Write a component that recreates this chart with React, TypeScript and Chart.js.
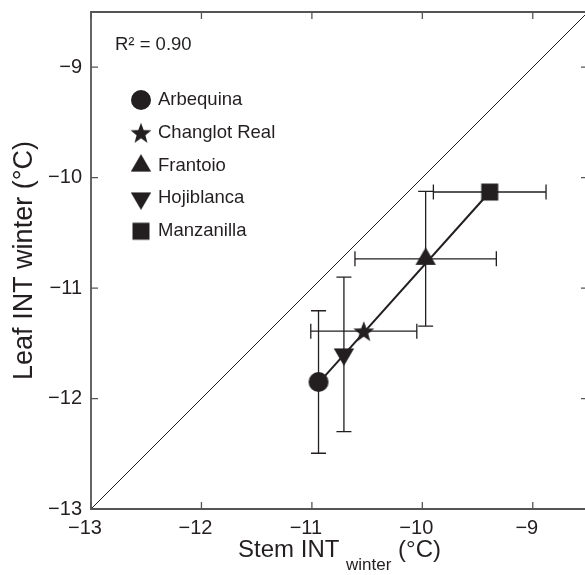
import React, { useEffect, useRef } from "react";
import { Chart, registerables } from "chart.js";

Chart.register(...registerables);

// ---------- data ----------
const cultivars = ["Arbequina", "Changlot Real", "Frantoio", "Hojiblanca", "Manzanilla"];
const stemInt = [-10.94, -10.53, -9.97, -10.71, -9.39];
const leafInt = [-11.85, -11.39, -10.735, -11.6, -10.13];
const stemErr = [0, 0.48, 0.64, 0, 0.51];
const leafErr = [0.645, 0, 0.61, 0.7, 0];
const markerShapes = ["circle", "star", "triangleUp", "triangleDown", "square"];
const fitStem = [-10.94, -9.39];
const fitLeaf = [-11.86, -10.13];
const identityLine = [-13, -8.5];
const axisMin = -13;
const axisMax = -8.5;
const tickValues = [-13, -12, -11, -10, -9];
const tickLabels = ["\u221213", "\u221212", "\u221211", "\u221210", "\u22129"];
const r2Text = "R\u00B2 = 0.90";
const xTitleMain = "Stem INT ";
const xTitleSub = "winter";
const xTitleEnd = " (\u00B0C)";
const yTitle = "Leaf INT winter (\u00B0C)";

// ---------- styles ----------
const INK = "#231f20";
const AXIS = "#555555";
const FONT = "'Liberation Sans', Arial, Helvetica, sans-serif";

function makeMarker(shape: string): HTMLCanvasElement {
  const c = document.createElement("canvas");
  const s = 24;
  c.width = s;
  c.height = s;
  const g = c.getContext("2d") as CanvasRenderingContext2D;
  const m = s / 2;
  g.fillStyle = INK;
  g.beginPath();
  switch (shape) {
    case "circle":
      g.arc(m, m, 10, 0, Math.PI * 2);
      break;
    case "square":
      g.rect(m - 8.5, m - 8.5, 17, 17);
      break;
    case "triangleUp":
      g.moveTo(m, m - 11.5);
      g.lineTo(m + 10.2, m + 6);
      g.lineTo(m - 10.2, m + 6);
      break;
    case "triangleDown":
      g.moveTo(m, m + 11.5);
      g.lineTo(m + 10.2, m - 6);
      g.lineTo(m - 10.2, m - 6);
      break;
    case "star":
      for (let k = 0; k < 10; k++) {
        const r = k % 2 === 0 ? 11 : 4.6;
        const a = -Math.PI / 2 + (k * Math.PI) / 5;
        const px = m + r * Math.cos(a);
        const py = m + 1 + r * Math.sin(a);
        if (k === 0) g.moveTo(px, py);
        else g.lineTo(px, py);
      }
      break;
  }
  g.closePath();
  g.fill();
  return c;
}

export default function App() {
  const canvasRef = useRef<HTMLCanvasElement | null>(null);

  useEffect(() => {
    const canvas = canvasRef.current;
    if (!canvas) return;
    const markers = markerShapes.map(makeMarker);

    const decor = {
      id: "decor",
      beforeDatasetsDraw(chart: any) {
        const { ctx, scales } = chart;
        const x = scales.x;
        const y = scales.y;
        const cap = 7.5;
        ctx.save();
        ctx.strokeStyle = INK;
        ctx.lineWidth = 1.3;
        cultivars.forEach((_, i) => {
          const px = x.getPixelForValue(stemInt[i]);
          const py = y.getPixelForValue(leafInt[i]);
          if (stemErr[i] > 0) {
            const x1 = x.getPixelForValue(stemInt[i] - stemErr[i]);
            const x2 = x.getPixelForValue(stemInt[i] + stemErr[i]);
            ctx.beginPath();
            ctx.moveTo(x1, py);
            ctx.lineTo(x2, py);
            ctx.moveTo(x1, py - cap);
            ctx.lineTo(x1, py + cap);
            ctx.moveTo(x2, py - cap);
            ctx.lineTo(x2, py + cap);
            ctx.stroke();
          }
          if (leafErr[i] > 0) {
            const y1 = y.getPixelForValue(leafInt[i] - leafErr[i]);
            const y2 = y.getPixelForValue(leafInt[i] + leafErr[i]);
            ctx.beginPath();
            ctx.moveTo(px, y1);
            ctx.lineTo(px, y2);
            ctx.moveTo(px - cap, y1);
            ctx.lineTo(px + cap, y1);
            ctx.moveTo(px - cap, y2);
            ctx.lineTo(px + cap, y2);
            ctx.stroke();
          }
        });
        ctx.restore();
      },
      afterDraw(chart: any) {
        const { ctx, chartArea, scales } = chart;
        const x = scales.x;
        const y = scales.y;
        const { left, right, top, bottom } = chartArea;
        ctx.save();
        // frame
        ctx.strokeStyle = AXIS;
        ctx.lineWidth = 1.8;
        ctx.beginPath();
        ctx.moveTo(left, top);
        ctx.lineTo(right, top);
        ctx.lineTo(right, bottom);
        ctx.lineTo(left, bottom);
        ctx.closePath();
        ctx.stroke();
        // inward ticks
        const tl = 7;
        ctx.lineWidth = 1.3;
        ctx.beginPath();
        tickValues.forEach((v) => {
          const px = x.getPixelForValue(v);
          const py = y.getPixelForValue(v);
          ctx.moveTo(px, bottom);
          ctx.lineTo(px, bottom - tl);
          ctx.moveTo(px, top);
          ctx.lineTo(px, top + tl);
          ctx.moveTo(left, py);
          ctx.lineTo(left + tl, py);
          ctx.moveTo(right, py);
          ctx.lineTo(right - tl, py);
        });
        ctx.stroke();

        // R2 text
        ctx.fillStyle = INK;
        ctx.textBaseline = "middle";
        ctx.textAlign = "left";
        ctx.font = `18.5px ${FONT}`;
        ctx.fillText(r2Text, left + 24, top + 33);

        // legend
        const legX = left + 50;
        const legY0 = top + 88;
        const legStep = 32.8;
        cultivars.forEach((name, i) => {
          const cy = legY0 + i * legStep;
          const img = markers[i];
          ctx.drawImage(img, legX - img.width / 2, cy - img.height / 2);
          ctx.fillText(name, legX + 17, cy);
        });

        // x title with subscript
        const fMain = `24px ${FONT}`;
        const fSub = `17px ${FONT}`;
        ctx.font = fMain;
        const w1 = ctx.measureText(xTitleMain).width;
        const w3 = ctx.measureText(xTitleEnd).width;
        ctx.font = fSub;
        const w2 = ctx.measureText(xTitleSub).width;
        const total = w1 + w2 + w3;
        let sx = (left + right) / 2 - total / 2;
        const base = bottom + 48;
        ctx.textBaseline = "alphabetic";
        ctx.font = fMain;
        ctx.fillText(xTitleMain, sx, base);
        sx += w1;
        ctx.font = fSub;
        ctx.fillText(xTitleSub, sx, base + 13);
        sx += w2;
        ctx.font = fMain;
        ctx.fillText(xTitleEnd, sx, base);
        ctx.restore();
      },
    };

    const scatterSets = cultivars.map((name, i) => ({
      type: "scatter" as const,
      label: name,
      data: [{ x: stemInt[i], y: leafInt[i] }],
      pointStyle: markers[i],
      pointRadius: 10,
      backgroundColor: INK,
      borderColor: INK,
      order: 0,
    }));

    const chart = new Chart(canvas, {
      type: "scatter",
      data: {
        datasets: [
          ...scatterSets,
          {
            type: "scatter",
            label: "fit",
            data: fitStem.map((v, i) => ({ x: v, y: fitLeaf[i] })),
            showLine: true,
            borderColor: INK,
            borderWidth: 2,
            pointRadius: 0,
            order: 1,
          },
          {
            type: "scatter",
            label: "1:1",
            data: identityLine.map((v) => ({ x: v, y: v })),
            showLine: true,
            borderColor: INK,
            borderWidth: 1,
            pointRadius: 0,
            order: 2,
          },
        ] as any,
      },
      options: {
        responsive: false,
        animation: false,
        events: [],
        layout: { padding: { top: 12, right: 12, left: 0, bottom: 0 } },
        plugins: {
          legend: { display: false },
          tooltip: { enabled: false },
        },
        scales: {
          x: {
            type: "linear",
            min: axisMin,
            max: axisMax,
            afterBuildTicks: (s: any) => {
              s.ticks = tickValues.map((v) => ({ value: v }));
            },
            afterFit: (s: any) => {
              s.height = 66;
              s.paddingLeft = 0;
              s.paddingRight = 0;
            },
            ticks: {
              callback: (v: any) => tickLabels[tickValues.indexOf(Number(v))] ?? "",
              font: { size: 20, family: FONT },
              color: INK,
              padding: 7,
              labelOffset: -6,
              maxRotation: 0,
              autoSkip: false,
            },
            grid: { display: false, drawTicks: false },
            border: { display: false },
          },
          y: {
            type: "linear",
            min: axisMin,
            max: axisMax,
            afterBuildTicks: (s: any) => {
              s.ticks = tickValues.map((v) => ({ value: v }));
            },
            afterFit: (s: any) => {
              s.width = 91;
              s.paddingTop = 0;
              s.paddingBottom = 0;
            },
            ticks: {
              callback: (v: any) => tickLabels[tickValues.indexOf(Number(v))] ?? "",
              font: { size: 20, family: FONT },
              color: INK,
              padding: 9,
              autoSkip: false,
            },
            grid: { display: false, drawTicks: false },
            border: { display: false },
            title: {
              display: true,
              text: yTitle,
              font: { size: 27, family: FONT },
              color: INK,
              padding: { top: 8, bottom: 0 },
            },
          },
        },
      },
      plugins: [decor],
    });

    return () => chart.destroy();
  }, []);

  return (
    <div
      style={{
        position: "fixed",
        left: 0,
        top: 0,
        width: 585,
        height: 575,
        overflow: "hidden",
        background: "#ffffff",
      }}
    >
      <canvas ref={canvasRef} width={600} height={575} style={{ display: "block" }} />
    </div>
  );
}
